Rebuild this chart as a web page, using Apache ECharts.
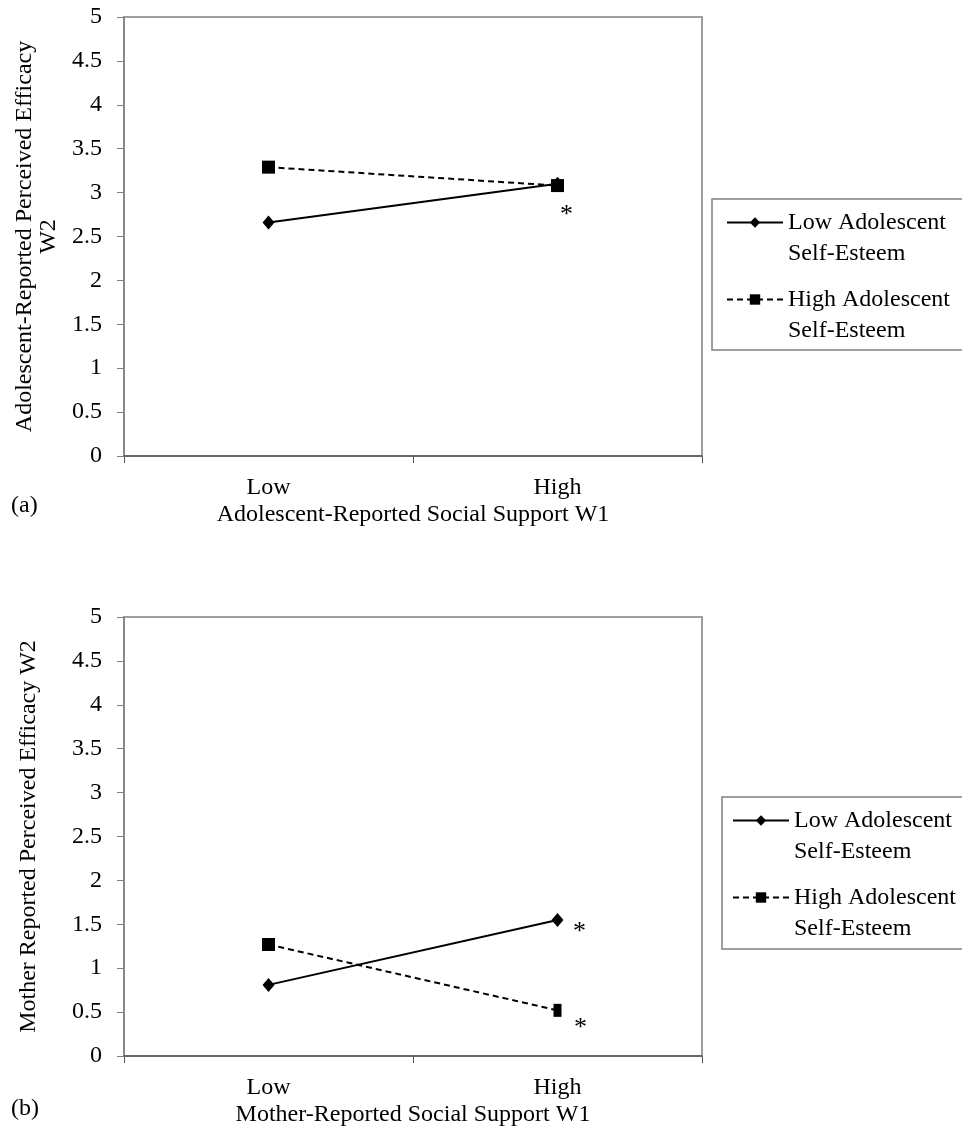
<!DOCTYPE html>
<html>
<head>
<meta charset="utf-8">
<script src="https://cdn.jsdelivr.net/npm/echarts@6/dist/echarts.min.js"></script>
<style>
html, body { margin: 0; padding: 0; background: #fff; }
#chart { width: 962px; height: 1136px; }
</style>
</head>
<body>
<div id="chart"></div>
<script>
// categories and series values
var supportLevels = ['Low', 'High'];
var seriesNames = ['Low Adolescent Self-Esteem', 'High Adolescent Self-Esteem'];
var adolLowSE = [2.66, 3.10];
var adolHighSE = [3.29, 3.08];
var motherLowSE = [0.81, 1.55];
var motherHighSE = [1.27, 0.52];
// points marked with a star
var adolLowSEStar = [false, true];
var adolHighSEStar = [false, false];
var motherLowSEStar = [false, true];
var motherHighSEStar = [false, true];

var font = 'Liberation Serif';
var fs = 24;
var frameGray = '#808080';

function makeAxes(gridIndex, xName, yName, yGap) {
    var x = {
        type: 'category',
        gridIndex: gridIndex,
        data: supportLevels,
        boundaryGap: true,
        name: xName,
        nameLocation: 'middle',
        nameGap: 47,
        nameTextStyle: { fontSize: fs, color: '#000', fontFamily: font },
        axisLine: { lineStyle: { color: '#555', width: 1.5 } },
        axisTick: { show: true, length: 7, lineStyle: { color: '#555' } },
        axisLabel: { margin: 20, fontSize: fs, color: '#000', fontFamily: font },
        splitLine: { show: false }
    };
    var y = {
        type: 'value',
        gridIndex: gridIndex,
        min: 0,
        max: 5,
        interval: 0.5,
        name: yName,
        nameLocation: 'middle',
        nameGap: yGap,
        nameTextStyle: { fontSize: fs, color: '#000', fontFamily: font, lineHeight: 24 },
        axisLine: { show: true, lineStyle: { color: frameGray, width: 1.5 } },
        axisTick: { show: true, length: 7, lineStyle: { color: frameGray } },
        axisLabel: { margin: 22, fontSize: fs, color: '#000', fontFamily: font },
        splitLine: { show: false }
    };
    return [x, y];
}

function makeSeries(name, values, stars, idx, dashed, symbol, sizeFn, starOffsets) {
    return {
        name: name,
        type: 'line',
        xAxisIndex: idx,
        yAxisIndex: idx,
        data: values.map(function (v, i) {
            var item = { value: v };
            if (stars[i]) {
                item.label = {
                    show: true,
                    formatter: '*',
                    position: 'inside',
                    offset: starOffsets[i],
                    fontSize: 26,
                    color: '#000',
                    fontFamily: font
                };
            }
            return item;
        }),
        symbol: symbol,
        symbolSize: sizeFn,
        showAllSymbol: true,
        itemStyle: { color: '#000' },
        lineStyle: { color: '#000', width: 2, type: dashed ? [6, 4] : 'solid' },
        label: { show: false },
        emphasis: { disabled: true },
        animation: false,
        z: dashed ? 3 : 4
    };
}

var axesA = makeAxes(0, 'Adolescent-Reported Social Support W1',
    'Adolescent-Reported Perceived Efficacy\nW2', 61);
var axesB = makeAxes(1, 'Mother-Reported Social Support W1',
    'Mother Reported Perceived Efficacy W2', 83);

function legendFor(top, left) {
    return {
        data: seriesNames,
        orient: 'vertical',
        top: top,
        left: left,
        padding: 0,
        itemGap: -16,
        itemWidth: 56,
        itemHeight: 13,
        selectedMode: false,
        formatter: function (name) {
            return '\n' + name.replace(' Self', '\nSelf');
        },
        textStyle: { fontSize: fs, color: '#000', fontFamily: font, lineHeight: 31 }
    };
}

var chart = echarts.init(document.getElementById('chart'));
chart.setOption({
    animation: false,
    textStyle: { fontFamily: font },
    grid: [
        { left: 124, top: 17, width: 578, height: 439, show: true, borderColor: frameGray, borderWidth: 1.5 },
        { left: 124, top: 617, width: 578, height: 439, show: true, borderColor: frameGray, borderWidth: 1.5 }
    ],
    xAxis: [axesA[0], axesB[0]],
    yAxis: [axesA[1], axesB[1]],
    legend: [legendFor(176, 726), legendFor(774, 732)],
    graphic: [
        { type: 'rect', shape: { x: 712, y: 199, width: 270, height: 151 }, style: { fill: 'none', stroke: frameGray, lineWidth: 1.5 }, z: -1 },
        { type: 'rect', shape: { x: 722, y: 797, width: 260, height: 152 }, style: { fill: 'none', stroke: frameGray, lineWidth: 1.5 }, z: -1 },
        { type: 'text', left: 11, top: 494, style: { text: '(a)', fontSize: fs, fontFamily: font, fill: '#000' } },
        { type: 'text', left: 11, top: 1097, style: { text: '(b)', fontSize: fs, fontFamily: font, fill: '#000' } }
    ],
    series: [
        makeSeries(seriesNames[0], adolLowSE, adolLowSEStar, 0, false, 'diamond', [12, 14], [[0, 0], [9, 31]]),
        makeSeries(seriesNames[1], adolHighSE, adolHighSEStar, 0, true, 'rect', 13, [[0, 0], [0, 0]]),
        makeSeries(seriesNames[0], motherLowSE, motherLowSEStar, 1, false, 'diamond', [12, 14], [[0, 0], [22, 12]]),
        makeSeries(seriesNames[1], motherHighSE, motherHighSEStar, 1, true, 'rect',
            function (v, p) { return p.dataIndex === 1 ? [8, 13] : 13; }, [[0, 0], [23, 18]])
    ]
});
</script>
</body>
</html>
